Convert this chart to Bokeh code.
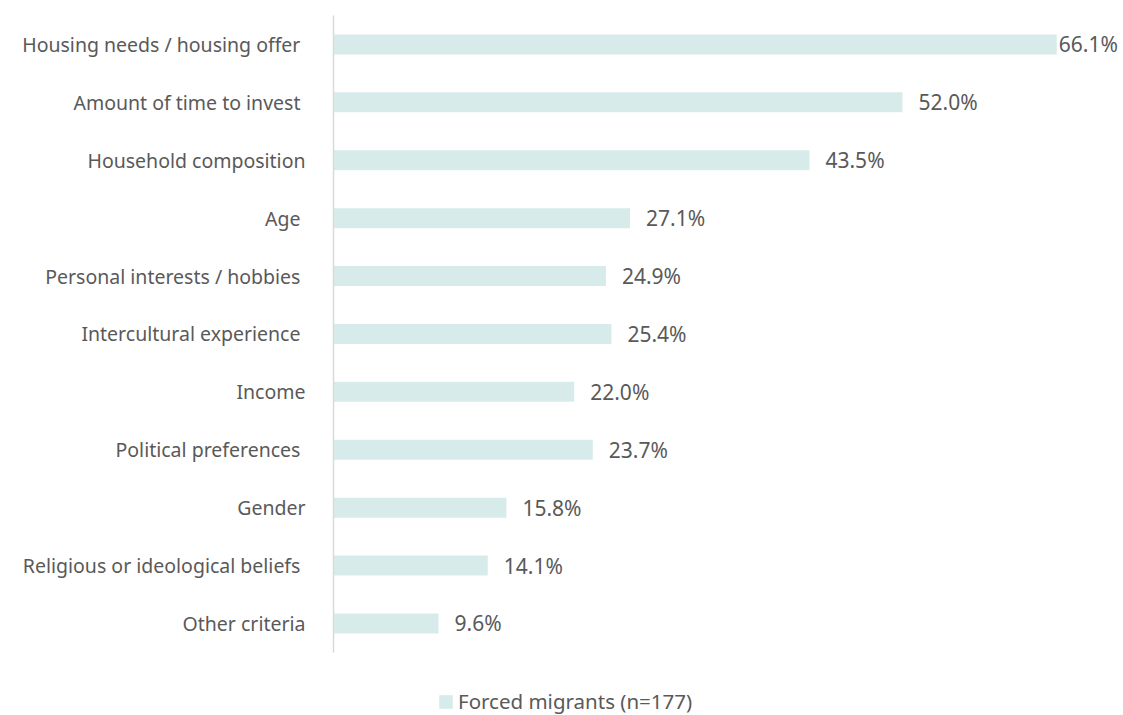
from bokeh.plotting import figure
from bokeh.models import ColumnDataSource, Range1d, Legend, LegendItem, FixedTicker
from bokeh.core.properties import value
from bokeh.embed import file_html
from bokeh.resources import INLINE

NB = "\u00a0"
categories = [
    "Housing needs / housing offer" + NB,
    "Amount of time to invest" + NB,
    "Household composition",
    "Age" + NB,
    "Personal interests / hobbies" + NB,
    "Intercultural experience" + NB,
    "Income",
    "Political preferences" + NB,
    "Gender",
    "Religious or ideological beliefs" + NB,
    "Other criteria",
]
values = [66.1, 52.0, 43.5, 27.1, 24.9, 25.4, 22.0, 23.7, 15.8, 14.1, 9.6]
series_name = "Forced migrants (n=177)"

FONT = "Noto Sans"
TXT = "#595959"
BAR = "#d7ecea"

n = len(categories)
pos = list(range(n))
labels = [f"{v:.1f}%" for v in values]
vmax = max(values)
offsets = [2 if v == vmax else 16 for v in values]

src = ColumnDataSource(dict(y=pos, val=values, lab=labels, off=offsets))

p = figure(
    width=1123, height=715,
    y_range=Range1d(start=11.59, end=-0.5),
    x_range=Range1d(0, 72.2),
    output_backend="svg", toolbar_location=None,
    min_border_left=333, min_border_right=0, min_border_top=15, min_border_bottom=0,
)
p.outline_line_color = None
p.xgrid.grid_line_color = None
p.ygrid.grid_line_color = None
p.xaxis.visible = False

ya = p.yaxis[0]
ya.ticker = FixedTicker(ticks=pos)
ya.major_label_overrides = {i: c for i, c in zip(pos, categories)}
ya.bounds = (-0.5, n - 0.5)
ya.axis_line_color = "#d9d9d9"
ya.axis_line_width = 1.5
ya.major_tick_line_color = None
ya.minor_tick_line_color = None
ya.major_label_standoff = 22
ya.major_label_text_font = FONT
ya.major_label_text_font_size = "19.5px"
ya.major_label_text_color = TXT

r = p.hbar(y="y", right="val", left=0, height=0.345, source=src,
           fill_color=BAR, line_color=None)

p.text(x="val", y="y", text="lab", source=src, x_offset="off",
       text_baseline="middle", text_align="left",
       text_font=value(FONT), text_font_size="21px", text_color=TXT)

legend = Legend(items=[LegendItem(label=series_name, renderers=[r])],
                location=(104, 0), orientation="horizontal",
                label_text_font=FONT, label_text_font_size="20.5px",
                label_text_color=TXT, glyph_width=17, glyph_height=17,
                border_line_color=None, background_fill_alpha=0,
                padding=0, margin=0, label_standoff=4)
p.add_layout(legend)

open("out.html", "w").write(file_html(p, INLINE))
